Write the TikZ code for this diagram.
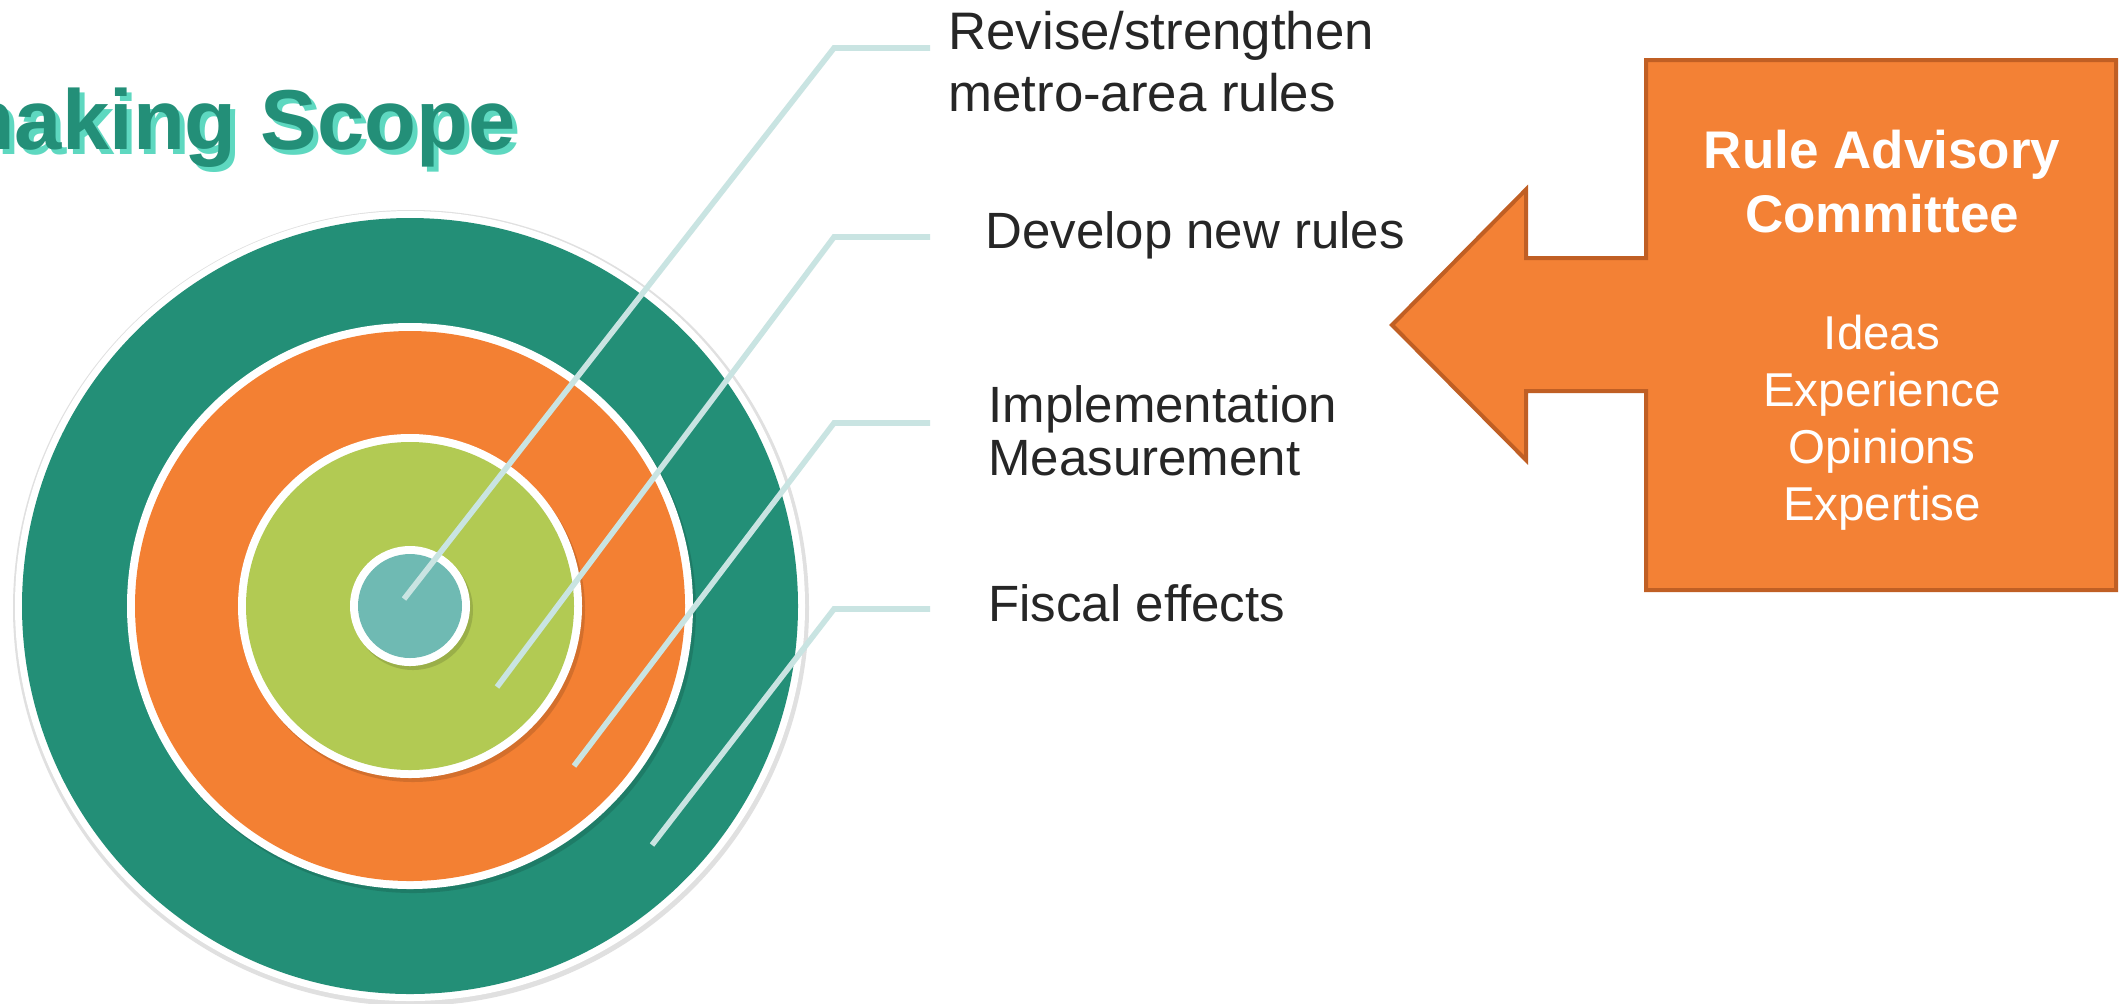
\documentclass[tikz,border=0pt]{standalone}
\usepackage{fontspec}
\setmainfont{Liberation Sans}
\definecolor{cgreen}{HTML}{238F77}
\definecolor{corange}{HTML}{F38033}
\definecolor{clime}{HTML}{B2CA53}
\definecolor{cteal}{HTML}{6FBAB3}
\definecolor{cline}{HTML}{C9E4E2}
\definecolor{ctext}{HTML}{262626}
\definecolor{cboxfill}{HTML}{F38135}
\definecolor{cboxedge}{HTML}{C05F24}
\definecolor{ctitle}{HTML}{238F78}
\definecolor{ctitleshadow}{HTML}{5ED8C0}
\begin{document}
\begin{tikzpicture}[x=0.5pt,y=-0.5pt,
  leader/.style={draw=cline,line width=2.8pt,line cap=butt,line join=miter},
  ringshadow/.style={fill=black,opacity=0.13},
  label/.style={anchor=base west,inner sep=0pt,text=ctext,align=left},
  boxtext/.style={anchor=base,inner sep=0pt,text=white,align=center}]
\useasboundingbox (0,0) rectangle (2123,1003);
\fill[white] (0,0) rectangle (2123,1003);

% title with shadow
\node[anchor=base east,inner sep=0pt,text=ctitleshadow,font=\fontsize{42.5}{50}\selectfont\bfseries] (titleshadow) at (521,154) {making Scope};
\node[anchor=base east,inner sep=0pt,text=ctitle,font=\fontsize{42.5}{50}\selectfont\bfseries] (title) at (516,149) {making Scope};

% target circles
\coordinate (c) at (410,606);
\fill[black!12] ([shift={(1,2)}]c) circle[radius=199pt];
\fill[white] (c) circle[radius=197.5pt];
\fill[cgreen] (c) circle[radius=194pt];
\fill[ringshadow] ([shift={(3,4)}]c) circle[radius=141.5pt];
\fill[white] (c) circle[radius=141.5pt];
\fill[corange] (c) circle[radius=137.5pt];
\fill[ringshadow] ([shift={(3,4)}]c) circle[radius=86pt];
\fill[white] (c) circle[radius=86pt];
\fill[clime] (c) circle[radius=82pt];
\fill[ringshadow] ([shift={(3,4)}]c) circle[radius=30pt];
\fill[white] (c) circle[radius=30pt];
\fill[cteal] (c) circle[radius=26pt];

% leader lines
\coordinate (s1) at (404,599);  \coordinate (k1) at (834,48);  \coordinate (e1) at (930,48);
\coordinate (s2) at (497,687);  \coordinate (k2) at (834,237); \coordinate (e2) at (930,237);
\coordinate (s3) at (574,766);  \coordinate (k3) at (834,423); \coordinate (e3) at (930,423);
\coordinate (s4) at (652,845);  \coordinate (k4) at (834,609); \coordinate (e4) at (930,609);
\draw[leader] (s1) -- (k1) -- (e1);
\draw[leader] (s2) -- (k2) -- (e2);
\draw[leader] (s3) -- (k3) -- (e3);
\draw[leader] (s4) -- (k4) -- (e4);

% labels (base anchor = baseline of last line)
\node[label,font=\fontsize{26.4}{31}\selectfont] (l1) at (948,111) {Revise/strengthen\\metro-area rules};
\node[label,font=\fontsize{25.5}{31}\selectfont] (l2) at (985,248) {Develop new rules};
\node[label,font=\fontsize{25.5}{26.3}\selectfont] (l3) at (988,475) {Implementation\\Measurement};
\node[label,font=\fontsize{25.5}{31}\selectfont] (l4) at (988,621) {Fiscal effects};

% advisory box with arrow
\draw[fill=cboxfill,draw=cboxedge,line width=2pt,line join=miter]
  (1646,60) -- (2116,60) -- (2116,590) -- (1646,590) -- (1646,391)
  -- (1526,391) -- (1526,460) -- (1392,325) -- (1526,189.5) -- (1526,258)
  -- (1646,258) -- cycle;
\node[boxtext,font=\fontsize{26.5}{32}\selectfont\bfseries] (rac) at (1882,232) {Rule Advisory\\Committee};
\node[boxtext,font=\fontsize{23.75}{28.5}\selectfont] (items) at (1882,520) {Ideas\\Experience\\Opinions\\Expertise};
\end{tikzpicture}
\end{document}
